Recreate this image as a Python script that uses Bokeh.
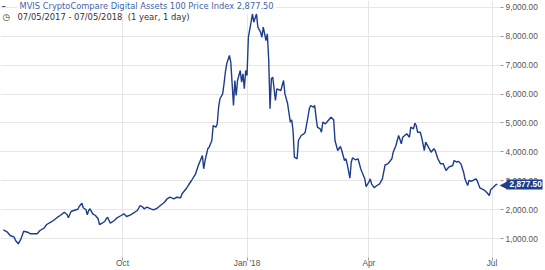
import pandas as pd
from bokeh.plotting import figure
from bokeh.models import (Range1d, FixedTicker, NumeralTickFormatter, Label, ColumnDataSource,
                          LinearAxis, BoxAnnotation)
from bokeh.embed import file_html
from bokeh.resources import INLINE

# ---------------- data ----------------
dates = [
    "2017-07-05", "2017-07-08", "2017-07-10", "2017-07-13", "2017-07-14", "2017-07-16",
    "2017-07-18", "2017-07-20", "2017-07-23", "2017-07-25", "2017-07-27", "2017-07-30",
    "2017-08-01", "2017-08-04", "2017-08-06", "2017-08-09", "2017-08-11", "2017-08-14",
    "2017-08-16", "2017-08-19", "2017-08-21", "2017-08-22", "2017-08-24", "2017-08-26",
    "2017-08-29", "2017-08-30",
    "2017-09-01", "2017-09-02", "2017-09-04", "2017-09-05", "2017-09-06", "2017-09-07",
    "2017-09-09", "2017-09-11", "2017-09-13", "2017-09-14", "2017-09-16", "2017-09-18",
    "2017-09-19", "2017-09-20", "2017-09-22", "2017-09-25", "2017-09-27", "2017-09-30",
    "2017-10-02", "2017-10-04", "2017-10-07", "2017-10-09", "2017-10-12", "2017-10-14",
    "2017-10-16", "2017-10-17", "2017-10-19", "2017-10-22", "2017-10-24", "2017-10-27",
    "2017-10-29",
    "2017-11-01", "2017-11-03", "2017-11-05", "2017-11-08", "2017-11-10", "2017-11-13",
    "2017-11-14", "2017-11-17", "2017-11-19", "2017-11-21", "2017-11-24", "2017-11-26",
    "2017-11-29", "2017-11-30",
    "2017-12-01", "2017-12-03", "2017-12-04", "2017-12-06", "2017-12-07", "2017-12-09",
    "2017-12-10", "2017-12-11", "2017-12-12", "2017-12-14", "2017-12-15", "2017-12-16",
    "2017-12-17", "2017-12-19", "2017-12-20", "2017-12-22", "2017-12-23", "2017-12-24",
    "2017-12-25", "2017-12-27", "2017-12-28", "2017-12-29", "2017-12-30", "2017-12-31",
    "2018-01-01", "2018-01-02", "2018-01-04", "2018-01-05", "2018-01-06", "2018-01-08",
    "2018-01-09", "2018-01-11", "2018-01-12", "2018-01-13", "2018-01-15", "2018-01-16",
    "2018-01-17", "2018-01-18", "2018-01-19", "2018-01-20", "2018-01-22", "2018-01-23",
    "2018-01-26", "2018-01-28", "2018-01-29", "2018-01-31",
    "2018-02-02", "2018-02-03", "2018-02-04", "2018-02-05", "2018-02-07", "2018-02-08",
    "2018-02-10", "2018-02-12", "2018-02-13", "2018-02-15", "2018-02-16", "2018-02-17",
    "2018-02-19", "2018-02-20", "2018-02-21", "2018-02-22", "2018-02-24", "2018-02-25",
    "2018-02-26", "2018-02-28",
    "2018-03-02", "2018-03-04", "2018-03-06", "2018-03-07", "2018-03-08", "2018-03-09",
    "2018-03-11", "2018-03-12", "2018-03-14", "2018-03-15", "2018-03-16", "2018-03-18",
    "2018-03-19", "2018-03-20", "2018-03-22", "2018-03-24", "2018-03-26", "2018-03-27",
    "2018-03-29", "2018-03-30",
    "2018-04-01", "2018-04-02", "2018-04-03", "2018-04-05", "2018-04-07", "2018-04-09",
    "2018-04-11", "2018-04-13", "2018-04-15", "2018-04-16", "2018-04-18", "2018-04-19",
    "2018-04-21", "2018-04-23", "2018-04-25", "2018-04-26", "2018-04-29",
    "2018-05-01", "2018-05-02", "2018-05-04", "2018-05-05", "2018-05-06", "2018-05-07",
    "2018-05-09", "2018-05-10", "2018-05-12", "2018-05-13", "2018-05-15", "2018-05-17",
    "2018-05-19", "2018-05-20", "2018-05-22", "2018-05-24", "2018-05-26", "2018-05-28",
    "2018-05-30",
    "2018-06-02", "2018-06-03", "2018-06-05", "2018-06-06", "2018-06-08", "2018-06-10",
    "2018-06-11", "2018-06-13", "2018-06-14", "2018-06-16", "2018-06-19", "2018-06-20",
    "2018-06-22", "2018-06-25", "2018-06-27", "2018-06-29", "2018-06-30",
    "2018-07-02", "2018-07-04", "2018-07-05",
]
values = [
    1311, 1228, 1114, 1055, 941, 827,
    1000, 1262, 1228, 1173, 1173, 1173,
    1287, 1366, 1494, 1573, 1632, 1746,
    1805, 1919, 1839, 1725, 1943, 1977,
    2022, 2116,
    2230, 2071, 2002, 1829, 1977, 2036,
    1863, 1805, 1691, 1494, 1539, 1608,
    1691, 1746, 1539, 1632, 1725, 1805,
    1863, 1770, 1829, 1884, 1977, 2150,
    2091, 2036, 2091, 2036, 2002, 2071,
    2150,
    2264, 2382, 2437, 2382, 2437, 2416,
    2554, 2727, 2875, 3014, 3245, 3532,
    3877, 3418,
    3704, 4109, 4164, 4395, 4913, 4855,
    4972, 5545, 5836, 6008, 6354, 6754,
    7044, 7331, 7100, 5604, 6468, 5950,
    6468, 6813, 6409, 6699, 6181, 6813,
    6640, 7963, 8481, 8771, 8481, 8771,
    8309, 8136, 7963, 8309, 7849, 8081,
    7217, 5490, 6526, 6582, 5777, 6181,
    6122, 6468, 6008, 5663,
    5027, 5110, 4741, 3818, 3763, 4395,
    4568, 4627, 4682, 5200, 5490, 5604,
    5545, 5604, 5200, 4855, 4799, 4682,
    5027, 4972,
    5086, 5200, 5110, 4395, 4223, 4050,
    4188, 4050, 3704, 3763, 3590, 3093,
    3646, 3798, 3729, 3763, 3418, 3300,
    3072, 2806,
    2955, 3072, 2900, 2761, 2841, 2900,
    3072, 3549, 3590, 3646, 3763, 3991,
    4223, 4568, 4281, 4509, 4627,
    4509, 4855, 4799, 4993, 4913, 4682,
    4682, 4509, 4050, 4337, 4164, 3991,
    4109, 4050, 3763, 3590, 3590, 3359,
    3473,
    3532, 3704, 3646, 3680, 3590, 3300,
    3072, 2841, 3014, 2989, 3072, 3014,
    2761, 2692, 2610, 2496, 2692,
    2782, 2875, 2877.5,
]

title_text = "MVIS CryptoCompare Digital Assets 100 Price Index 2,877.50"
period_text = "07/05/2017 - 07/05/2018\u00a0\u00a0(1 year, 1 day)"
last_value = 2877.5
last_label = "2,877.50"
x_tick_dates = ["2017-10-01", "2018-01-01", "2018-04-01", "2018-07-01"]
x_tick_labels = ["Oct", "Jan '18", "Apr", "Jul"]
y_ticks = [1000, 2000, 3000, 4000, 5000, 6000, 7000, 8000, 9000]

# ---------------- styling ----------------
LINE_COLOR = "#1d3d8c"
TAG_COLOR = "#1c3f8e"
GRID_COLOR = "#e6e6e6"
AXIS_TEXT = "#555555"
AXIS_FONT = "Liberation Sans"
TITLE_FONT = "DejaVu Sans"

x_start = pd.Timestamp("2017-07-02 20:40")
x_plot_end = pd.Timestamp("2018-07-07 07:00")   # right edge of the plotting area
x_canvas_end = pd.Timestamp("2018-08-09 12:30")  # right edge of the canvas
x_axis_loc = x_plot_end.value / 1e6

src = ColumnDataSource(dict(x=pd.to_datetime(dates), y=values))

p = figure(
    width=545, height=270,
    x_axis_type="datetime", y_axis_location="right",
    x_range=Range1d(x_start, x_canvas_end),
    y_range=Range1d(354, 9231),
    output_backend="svg", toolbar_location=None,
    min_border_left=0, min_border_top=0, min_border_right=0, min_border_bottom=13,
)
p.outline_line_color = None
p.background_fill_color = "white"
p.border_fill_color = "white"

x_ticks = [pd.Timestamp(d).value / 1e6 for d in x_tick_dates]
xticker = FixedTicker(ticks=x_ticks)
p.xaxis.ticker = xticker
p.xaxis.major_label_overrides = {t: lab for t, lab in zip(x_ticks, x_tick_labels)}
p.xgrid.ticker = xticker

yticker = FixedTicker(ticks=y_ticks)
p.yaxis.ticker = yticker
p.yaxis.formatter = NumeralTickFormatter(format="0,0.00")
p.yaxis.fixed_location = x_axis_loc
p.ygrid.ticker = yticker

for ax in (p.xaxis, p.yaxis):
    ax.axis_line_color = None
    ax.major_tick_in = 0
    ax.major_tick_out = 3
    ax.major_tick_line_color = "#999999"
    ax.minor_tick_line_color = None
    ax.major_label_text_font = AXIS_FONT
    ax.major_label_text_font_size = "8.3px"
    ax.major_label_text_color = AXIS_TEXT
p.xaxis.major_label_standoff = -3
p.yaxis.major_label_standoff = 2

p.xgrid.grid_line_color = GRID_COLOR
p.ygrid.grid_line_color = GRID_COLOR

# blank out the grid to the right of the plotting area
p.add_layout(BoxAnnotation(left=x_axis_loc, fill_color="white", fill_alpha=1.0,
                           line_color=None, level="underlay"))

p.line("x", "y", source=src, line_color=LINE_COLOR, line_width=1.4)

# last value tag, drawn as an extra right axis with one thick tick
tag_axis = LinearAxis(
    fixed_location=x_axis_loc,
    ticker=FixedTicker(ticks=[last_value]),
    major_label_overrides={last_value: last_label},
    axis_line_color=None,
    major_tick_in=-6, major_tick_out=42,
    major_tick_line_width=10, major_tick_line_color=TAG_COLOR,
    minor_tick_line_color=None,
    major_label_standoff=-33,
    major_label_text_color="white", major_label_text_font_style="bold",
    major_label_text_font=AXIS_FONT, major_label_text_font_size="8.3px",
)
p.add_layout(tag_axis, "right")
p.add_layout(Label(x=499, y=last_value, x_units="screen", y_units="data", text="\u25c0",
                   text_font=TITLE_FONT, text_font_size="10px",
                   text_color=TAG_COLOR, text_baseline="middle"))

# header
p.add_layout(Label(x=1, y=9024, x_units="screen", y_units="data", text="\u2013",
                   text_font=TITLE_FONT, text_font_size="8.4px", text_font_style="bold",
                   text_color="#2f4f9a", text_baseline="middle",
                   background_fill_color="white"))
p.add_layout(Label(x=17, y=9024, x_units="screen", y_units="data", text=title_text,
                   text_font=TITLE_FONT, text_font_size="8.3px",
                   text_color="#4563a6", text_baseline="middle",
                   background_fill_color="white", padding=2))
p.add_layout(Label(x=2, y=8661, x_units="screen", y_units="data", text="\u25f7",
                   text_font=TITLE_FONT, text_font_size="9px",
                   text_color="#333333", text_baseline="middle"))
p.add_layout(Label(x=17, y=8661, x_units="screen", y_units="data", text=period_text,
                   text_font=TITLE_FONT, text_font_size="8.4px",
                   text_color="#333333", text_baseline="middle"))

open("out.html", "w").write(file_html(p, INLINE))
